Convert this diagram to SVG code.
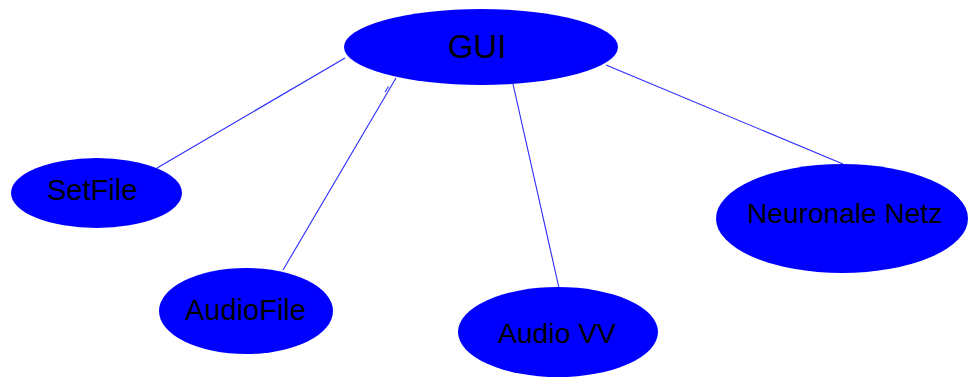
<svg xmlns="http://www.w3.org/2000/svg" width="969" height="380" viewBox="0 0 969 380">
<style>
.node{fill:#0000ff;}
.lbl{font-family:"Liberation Sans",Arial,sans-serif;fill:#000;}
.edge{stroke:#2a2aff;stroke-width:1.1;fill:none;}
</style>
<rect width="969" height="380" fill="#fff"/>
<g id="edges">
<line class="edge" x1="345" y1="58" x2="157" y2="168"/>
<line class="edge" x1="396" y1="78" x2="283" y2="270"/>
<path class="edge" d="M385,92 L388.5,86.5"/>
<line class="edge" x1="513" y1="84" x2="559" y2="288"/>
<line class="edge" x1="606" y1="65" x2="843" y2="164"/>
</g>
<g id="GUI">
<ellipse class="node" cx="481" cy="47" rx="137" ry="38"/>
<text class="lbl" x="477" y="58" font-size="33" text-anchor="middle">GUI</text>
</g>
<g id="SetFile">
<ellipse class="node" cx="96.5" cy="193" rx="85.5" ry="35"/>
<text class="lbl" x="47" y="200" font-size="29">SetFile</text>
</g>
<g id="AudioFile">
<ellipse class="node" cx="246" cy="311" rx="87" ry="43"/>
<text class="lbl" x="185" y="320" font-size="29">AudioFile</text>
</g>
<g id="AudioVV">
<ellipse class="node" cx="558" cy="332" rx="100" ry="45"/>
<text class="lbl" x="498" y="343" font-size="28.3">Audio VV</text>
</g>
<g id="NeuronaleNetz">
<ellipse class="node" cx="842" cy="218.5" rx="126" ry="54.5"/>
<text class="lbl" x="747" y="223" font-size="28.1">Neuronale Netz</text>
</g>
</svg>
